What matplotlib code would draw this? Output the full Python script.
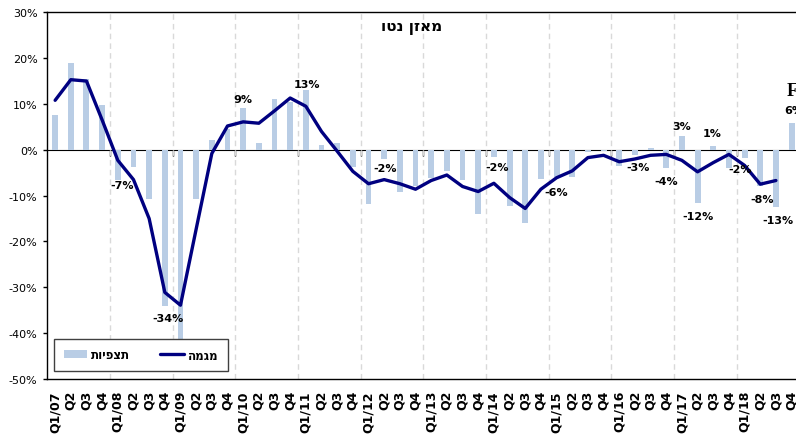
import matplotlib
matplotlib.use("Agg")
import matplotlib.pyplot as plt
import numpy as np
from matplotlib.ticker import FuncFormatter, NullFormatter

plt.rcParams['font.family'] = ['DejaVu Sans', 'Noto Sans']

# ---------------- data ----------------
years = ["07", "08", "09", "10", "11", "12", "13", "14", "15", "16", "17", "18"]
quarters = ["Q1", "Q2", "Q3", "Q4"]
categories = []
for yy in years:
    for q in quarters:
        categories.append(f"{q}/{yy}" if q == "Q1" else q)

observations = [
    7.7, 18.9, 15.4, 9.8,        # 2007
    -6.6, -3.7, -10.8, -34.0,    # 2008
    -42.0, -10.8, 2.1, 4.6,      # 2009
    9.2, 1.4, 11.1, 10.5,        # 2010
    13.1, 1.1, 1.5, -3.8,        # 2011
    -11.9, -2.1, -9.3, -7.9,     # 2012
    -6.1, -4.6, -6.5, -14.1,     # 2013
    -1.5, -12.3, -15.9, -6.3,    # 2014
    -6.0, -5.9, -0.5, -0.3,      # 2015
    -3.6, -1.2, 0.5, -3.9,       # 2016
    3.1, -11.5, 0.8, -4.0,       # 2017
    -1.8, -8.0, -12.4, 5.9,      # 2018
]

trend = [
    10.8, 15.3, 15.0, 6.5,
    -2.3, -6.5, -15.0, -31.1,
    -33.9, -17.3, -0.8, 5.2,
    6.1, 5.8, 8.5, 11.3,
    9.5, 4.0, -0.3, -4.7,
    -7.4, -6.5, -7.4, -8.6,
    -6.7, -5.5, -8.0, -9.1,
    -7.3, -10.4, -12.8, -8.6,
    -6.1, -4.6, -1.7, -1.2,
    -2.6, -2.0, -1.2, -1.0,
    -2.3, -4.8, -2.8, -1.0,
    -3.4, -7.5, -6.7, np.nan,
]

# data labels: category position, text, vertical position (%)
label_pos = [4.27, 7.2, 11.96, 16.07, 21.05, 28.2, 32.0, 37.2, 39.0, 39.96,
             41.95, 41.0, 43.7, 45.1, 46.1, 47.15]
label_text = ["-7%", "-34%", "9%", "13%", "-2%", "-2%", "-6%", "-3%", "-4%", "3%",
              "1%", "-12%", "-2%", "-8%", "-13%", "6%"]
label_y = [-7.7, -36.8, 11.1, 14.3, -4.0, -3.8, -9.3, -3.8, -6.9, 5.2,
           3.6, -14.5, -4.2, -10.8, -15.4, 8.7]

title = "מאזן נטו"
series_obs = "תצפיות"
series_trend = "מגמה"


def rtl(s):
    return s[::-1]


# ---------------- figure ----------------
W, H = 796, 435
fig = plt.figure(figsize=(W / 100, H / 100), dpi=100)
left_px, right_px, top_px, bot_px = 47.3, 799.4, 13.3, 380.0
ax = fig.add_axes([left_px / W, 1 - bot_px / H, (right_px - left_px) / W, (bot_px - top_px) / H])

x = np.arange(len(categories))
bars = ax.bar(x, observations, width=0.38, color='#B9CDE5', zorder=2, label=rtl(series_obs))
line, = ax.plot(x, trend, color='#000080', lw=2.4, zorder=3, solid_joinstyle='round',
                solid_capstyle='round', label=rtl(series_trend))

ymin, ymax = -50, 30
ax.set_xlim(-0.5, len(categories) - 0.5)
ax.set_ylim(ymin, ymax)
ax.set_yticks(np.arange(ymin, ymax + 1, 10))
ax.yaxis.set_major_formatter(FuncFormatter(lambda v, p: f"{int(round(v))}%"))
ax.tick_params(axis='y', direction='out', length=3, width=1, pad=4, labelsize=8)

ax.set_xticks(x)
ax.set_xticklabels(categories, rotation=90, fontweight='bold', fontsize=9)
ax.tick_params(axis='x', which='major', length=0, pad=8)
boundaries = np.arange(3.5, len(categories) - 1, 4)
ax.set_xticks(boundaries, minor=True)
ax.tick_params(axis='x', which='minor', length=0)
ax.grid(axis='x', which='minor', color='#D9D9D9', ls=(0, (4, 3)), lw=1)
ax.set_axisbelow(True)

for s in ax.spines.values():
    s.set_color('black')
    s.set_linewidth(1)

# zero axis line with year ticks
sec = ax.secondary_xaxis((0 - ymin) / (ymax - ymin))
sec.set_xticks(boundaries)
sec.xaxis.set_major_formatter(NullFormatter())
sec.tick_params(direction='in', length=4, width=1, labelbottom=False, labeltop=False,
                color='black')
sec.spines['bottom'].set_color('black')
sec.spines['bottom'].set_linewidth(1)

# data labels
for xp, t, yp in zip(label_pos, label_text, label_y):
    ax.text(xp, yp, t, ha='center', va='center', fontsize=8, fontweight='bold', zorder=5)

# forecast marker
ax.text(46.7, 13.0, "F", ha='left', va='center', fontsize=13, fontweight='bold',
        family=['Liberation Serif'], zorder=5)

# title
ax.text(0.4845, 0.962, rtl(title), transform=ax.transAxes, ha='center', va='center',
        fontsize=11, fontweight='bold')

leg = ax.legend(handles=[bars, line], labels=[rtl(series_obs), rtl(series_trend)],
                loc='lower left', bbox_to_anchor=(0.009, 0.022), ncol=2, frameon=True,
                fancybox=False, edgecolor='#404040', framealpha=1, borderpad=0.8,
                columnspacing=2.6, handlelength=2.0, handletextpad=0.3,
                prop={'weight': 'bold', 'size': 8.5}, borderaxespad=0)
leg.get_frame().set_linewidth(1)

fig.savefig("out.png", dpi=100)
